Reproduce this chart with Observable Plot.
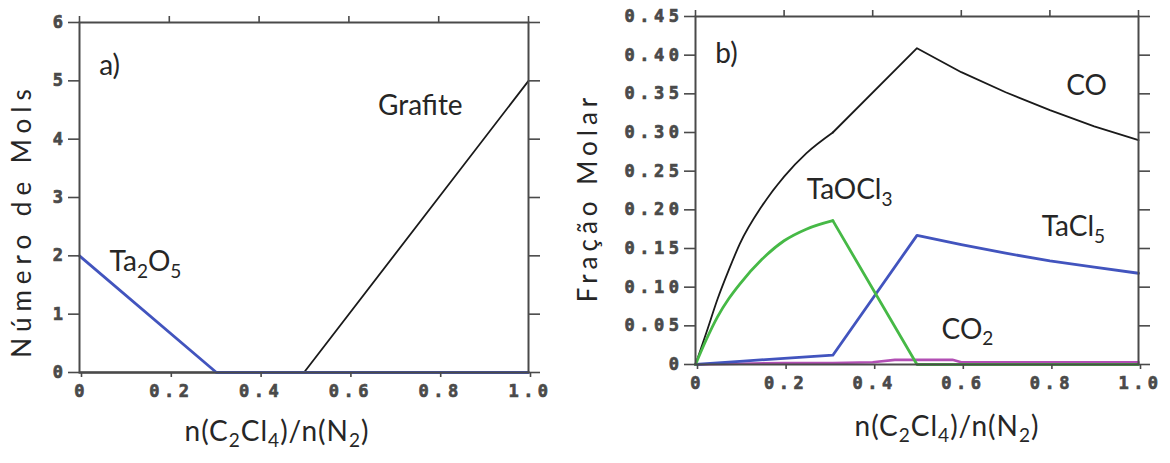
<!DOCTYPE html>
<html><head><meta charset="utf-8">
<script src="https://cdn.jsdelivr.net/npm/d3@7"></script>
<script src="https://cdn.jsdelivr.net/npm/@observablehq/plot@0.6"></script>
<style>
body{margin:0;background:#fff;}
#wrap{position:relative;width:1170px;height:463px;overflow:hidden;background:#fff;}
#wrap svg{position:absolute;top:0;overflow:visible;}
</style></head><body><div id="wrap"></div>
<script>
// ---------- Panel a data ----------
const aX = [0, 0.305, 0.5, 1.0];
const aGrafite = [0, 0, 0, 5];
const aTa2O5 = [2, 0, 0, 0];
const aXTicks = [0, 0.2, 0.4, 0.6, 0.8, 1.0];
const aXTickLabels = ["0", "0.2", "0.4", "0.6", "0.8", "1.0"];
const aYTicks = [0, 1, 2, 3, 4, 5, 6];
const aYTickLabels = ["0", "1", "2", "3", "4", "5", "6"];

// ---------- Panel b data ----------
const coX = [0, 0.025, 0.05, 0.075, 0.1, 0.15, 0.2, 0.25, 0.31, 0.5, 0.6, 0.7, 0.8, 0.9, 1.0];
const coY = [0, 0.042, 0.085, 0.122, 0.156, 0.205, 0.243, 0.273, 0.300, 0.409, 0.378, 0.352, 0.329, 0.308, 0.290];
const taocl3X = [0, 0.025, 0.05, 0.075, 0.1, 0.15, 0.2, 0.25, 0.31, 0.5, 1.0];
const taocl3Y = [0, 0.033, 0.062, 0.085, 0.104, 0.136, 0.160, 0.175, 0.186, 0, 0];
const tacl5X = [0, 0.1, 0.2, 0.31, 0.5, 0.6, 0.7, 0.8, 0.9, 1.0];
const tacl5Y = [0, 0.004, 0.008, 0.012, 0.167, 0.155, 0.144, 0.134, 0.126, 0.118];
const co2X = [0, 0.1, 0.2, 0.31, 0.4, 0.45, 0.58, 0.6, 1.0];
const co2Y = [0, 0.001, 0.002, 0.002, 0.003, 0.006, 0.006, 0.003, 0.003];
const bXTicks = [0, 0.2, 0.4, 0.6, 0.8, 1.0];
const bXTickLabels = ["0", "0.2", "0.4", "0.6", "0.8", "1.0"];
const bYTicks = [0, 0.05, 0.1, 0.15, 0.2, 0.25, 0.3, 0.35, 0.4, 0.45];
const bYTickLabels = ["0", "0.05", "0.10", "0.15", "0.20", "0.25", "0.30", "0.35", "0.40", "0.45"];

// ---------- Texts ----------
const xTitle = "n(C_2Cl_4)/n(N_2)";
const aYTitle = "Número de Mols";
const bYTitle = "Fração Molar";
const aAnnotations = [
  {label: "a)", x: 0.067, y: 5.25},
  {label: "Grafite", x: 0.759, y: 4.56},
  {label: "Ta_2O_5", x: 0.147, y: 1.89}
];
const bAnnotations = [
  {label: "b)", x: 0.07, y: 0.401},
  {label: "CO", x: 0.883, y: 0.3595},
  {label: "TaOCl_3", x: 0.348, y: 0.225},
  {label: "TaCl_5", x: 0.853, y: 0.178},
  {label: "CO_2", x: 0.614, y: 0.045}
];

const zip = (xs, ys) => xs.map((x, i) => ({x, y: ys[i]}));
const fmt = (ticks, labels) => d => labels[ticks.indexOf(d)];
const annFont = "Lato, 'Open Sans', sans-serif";
const tickFont = "'DejaVu Sans Mono', monospace";
const txtColor = "#262626";

function axes(xTicks, xLabels, yTicks, yLabels) {
  const common = {stroke: "#4a4a4a", strokeWidth: 1.6, label: null, fontSize: 17, fontWeight: "bold", fontFamily: tickFont};
  return [
    Plot.axisX({...common, anchor: "bottom", ticks: xTicks, tickSize: 5, tickPadding: 7, tickFormat: fmt(xTicks, xLabels), dx: 2}),
    Plot.axisX({...common, anchor: "top", ticks: xTicks, tickSize: 7, tickFormat: () => ""}),
    Plot.axisY({...common, anchor: "left", ticks: yTicks, tickSize: 11, tickPadding: 1, tickFormat: fmt(yTicks, yLabels)}),
    Plot.axisY({...common, anchor: "right", ticks: yTicks, tickSize: 11, tickFormat: () => ""}),
    Plot.frame({stroke: "#4a4a4a", strokeWidth: 2})
  ];
}

// split a series at a given x: smooth part up to it, straight segments after
function seriesMarks(xs, ys, splitX, opts) {
  const pts = zip(xs, ys);
  if (splitX == null) return [Plot.line(pts, {x: "x", y: "y", ...opts})];
  return [
    Plot.line(pts.filter(d => d.x <= splitX), {x: "x", y: "y", curve: "monotone-x", ...opts}),
    Plot.line(pts.filter(d => d.x >= splitX), {x: "x", y: "y", curve: "linear", ...opts})
  ];
}

const plotA = Plot.plot({
  width: 580, height: 463,
  marginLeft: 79, marginRight: 52, marginTop: 22, marginBottom: 91,
  x: {domain: [0, 1]}, y: {domain: [0, 6]},
  style: {color: "#444", background: "transparent"},
  marks: [
    Plot.line(zip(aX, aGrafite), {x: "x", y: "y", stroke: "#1a1a1a", strokeWidth: 1.8}),
    Plot.line(zip(aX, aTa2O5), {x: "x", y: "y", stroke: "#4254be", strokeWidth: 2.8}),
    ...axes(aXTicks, aXTickLabels, aYTicks, aYTickLabels),
    Plot.text(aAnnotations, {x: "x", y: "y", text: "label", fontFamily: annFont, fontSize: 28, fill: txtColor, className: "sub"}),
    Plot.text([xTitle], {text: d => d, frameAnchor: "bottom", textAnchor: "middle", dx: -27, dy: 68, fontFamily: annFont, fontSize: 28, fill: txtColor, className: "sub xlab"}),
    Plot.text([aYTitle], {text: d => d, frameAnchor: "left", textAnchor: "middle", dx: -57, dy: 23, rotate: -90, fontFamily: annFont, fontSize: 26, fill: txtColor, className: "ylabA"})
  ]
});

const plotB = Plot.plot({
  width: 590, height: 463,
  marginLeft: 115, marginRight: 32, marginTop: 16, marginBottom: 99,
  x: {domain: [0, 1]}, y: {domain: [0, 0.45]},
  style: {color: "#444", background: "transparent"},
  marks: [
    ...seriesMarks(coX, coY, 0.31, {stroke: "#1a1a1a", strokeWidth: 1.8}),
    ...seriesMarks(co2X, co2Y, null, {stroke: "#b24fb4", strokeWidth: 2.6}),
    ...seriesMarks(tacl5X, tacl5Y, null, {stroke: "#4254be", strokeWidth: 2.8}),
    ...seriesMarks(taocl3X, taocl3Y, 0.31, {stroke: "#46b946", strokeWidth: 2.8}),
    ...axes(bXTicks, bXTickLabels, bYTicks, bYTickLabels),
    Plot.text(bAnnotations, {x: "x", y: "y", text: "label", fontFamily: annFont, fontSize: 28, fill: txtColor, className: "sub"}),
    Plot.text([xTitle], {text: d => d, frameAnchor: "bottom", textAnchor: "middle", dx: 30, dy: 71, fontFamily: annFont, fontSize: 28, fill: txtColor, className: "sub xlab"}),
    Plot.text([bYTitle], {text: d => d, frameAnchor: "left", textAnchor: "middle", dx: -107, dy: 7, rotate: -90, fontFamily: annFont, fontSize: 26, fill: txtColor, className: "ylabB"})
  ]
});

const wrap = document.getElementById("wrap");
plotA.style.left = "0px";
plotB.style.left = "580px";
wrap.appendChild(plotA);
wrap.appendChild(plotB);

function subscriptify(svg, fs) {
  d3.select(svg).selectAll(".sub text").each(function () {
    const el = this;
    const t = el.textContent;
    if (!t.includes("_")) return;
    el.textContent = "";
    const parts = t.split(/(_\d)/).filter(s => s);
    let shifted = false;
    for (const p of parts) {
      const ts = document.createElementNS("http://www.w3.org/2000/svg", "tspan");
      if (p.startsWith("_")) {
        ts.textContent = p.slice(1);
        ts.setAttribute("font-size", fs * 0.68);
        ts.setAttribute("dy", shifted ? 0 : fs * 0.24);
        shifted = true;
      } else {
        ts.textContent = p;
        if (shifted) { ts.setAttribute("dy", -fs * 0.24); shifted = false; }
      }
      el.appendChild(ts);
    }
  });
}
for (const svg of [plotA, plotB]) {
  subscriptify(svg, 28);
  d3.select(svg).selectAll('g[aria-label="x-axis tick label"], g[aria-label="y-axis tick label"]')
    .attr("letter-spacing", "4.5px")
    .selectAll("text")
    .style("fill", "#4a4a4a")
    .style("stroke", "#4a4a4a")
    .style("stroke-width", "0.7px")
    .style("font-weight", "bold");
  d3.select(svg).selectAll(".xlab").attr("letter-spacing", "1px");
}
d3.select(plotA).selectAll(".ylabA").attr("letter-spacing", "6px");
d3.select(plotB).selectAll(".ylabB").attr("letter-spacing", "5px");
</script>
</body></html>
